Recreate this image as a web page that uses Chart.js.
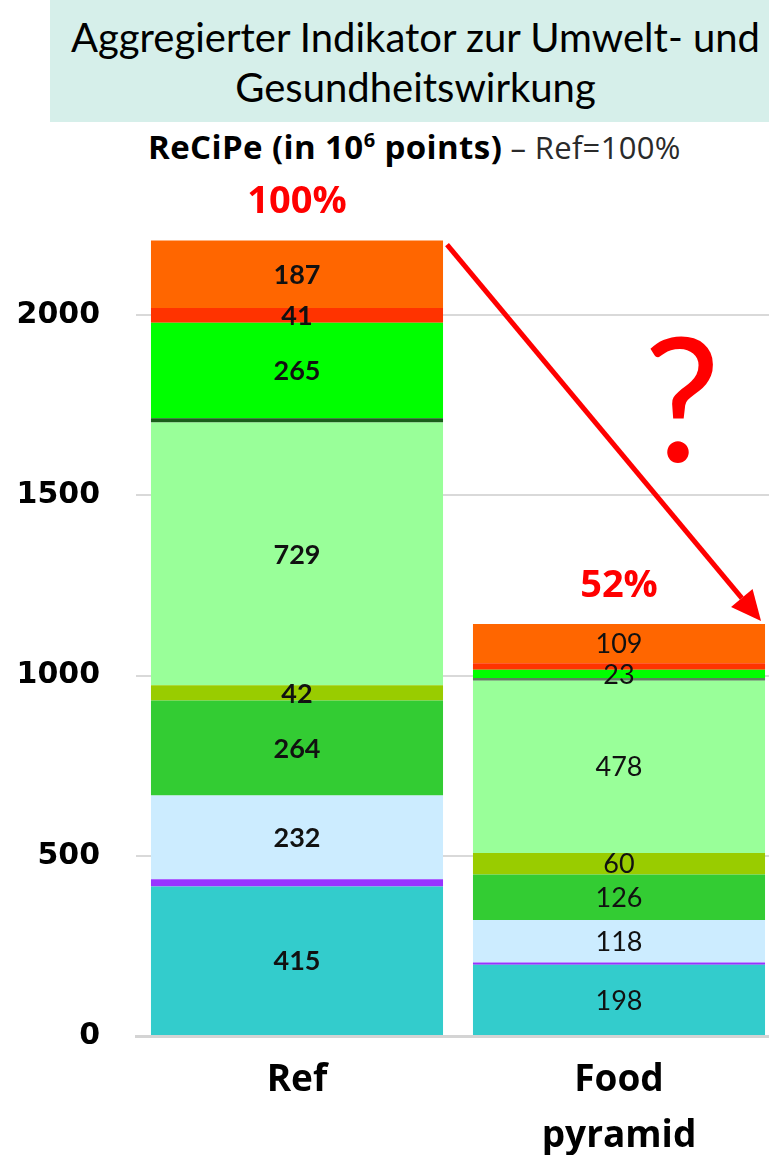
<!DOCTYPE html>
<html>
<head>
<meta charset="utf-8">
<script src="https://cdn.jsdelivr.net/npm/chart.js@4"></script>
<style>
  html, body { margin: 0; padding: 0; background: #fff; overflow: hidden; }
  #wrap { position: relative; width: 769px; height: 1155px; overflow: hidden; }
  #header { position: absolute; left: 50px; top: 0; width: 719px; height: 122px; background: #D6EFEA;
            font-family: Lato, sans-serif; font-size: 40px; line-height: 50px; text-align: center;
            color: #000; padding-top: 12px; padding-left: 12px; box-sizing: border-box; }
  #sub { position: absolute; left: 148px; top: 129px; white-space: nowrap; font-family: 'Open Sans', sans-serif;
         line-height: 36px; color: #000; }
  #sub b { font-size: 33px; letter-spacing: 0.4px; }
  #sub sup { font-size: 20px; vertical-align: 12px; line-height: 0; }
  #sub span { font-size: 31px; color: #2a2a2a; letter-spacing: 0.3px; }
  canvas { position: absolute; left: 0; top: 0; }
</style>
</head>
<body>
<div id="wrap">
  <div id="header">Aggregierter Indikator zur Umwelt- und<br>Gesundheitswirkung</div>
  <div id="sub"><b>ReCiPe (in 10<sup>6</sup> points)</b><span> – Ref=100%</span></div>
  <canvas id="c" width="780" height="1155"></canvas>
</div>
<script>
// ---- data ----
const categories = ['Ref', ['Food', 'pyramid']];
const teal        = [415, 198];
const purple      = [20, 6];
const lightBlue   = [232, 118];
const green       = [264, 126];
const yellowGreen = [42, 60];
const lightGreen  = [729, 478];
const darkGreen   = [12, 7];
const brightGreen = [265, 23];
const red         = [41, 18];
const orange      = [187, 109];
const yTicks = [0, 500, 1000, 1500, 2000];
const percentLabels = ['100%', '52%'];
const questionMark = '?';

// which value labels are printed, per series and category
const showLabel = {
  teal: [true, true], purple: [false, false], lightBlue: [true, true], green: [true, true],
  yellowGreen: [true, true], lightGreen: [true, true], darkGreen: [false, false],
  brightGreen: [true, true], red: [true, false], orange: [true, true]
};

const series = [
  ['teal', teal, '#33CCCC'],
  ['purple', purple, '#9933FF'],
  ['lightBlue', lightBlue, '#CCECFF'],
  ['green', green, '#33CC33'],
  ['yellowGreen', yellowGreen, '#99CC00'],
  ['lightGreen', lightGreen, '#99FF99'],
  ['darkGreen', darkGreen, ['#1A5E1A', '#5A845A']],
  ['brightGreen', brightGreen, '#00FF00'],
  ['red', red, '#FF3300'],
  ['orange', orange, '#FF6600']
];

const datasets = series.map(([name, vals, col]) => ({
  label: name, data: vals, backgroundColor: col, borderWidth: 0,
  barPercentage: 1, categoryPercentage: 0.907
}));

const valueLabels = {
  id: 'valueLabels',
  afterDatasetsDraw(chart) {
    const ctx = chart.ctx;
    ctx.save();
    ctx.textAlign = 'center';
    ctx.textBaseline = 'middle';
    ctx.fillStyle = '#111';
    chart.data.datasets.forEach((ds, di) => {
      const meta = chart.getDatasetMeta(di);
      meta.data.forEach((el, i) => {
        if (!showLabel[ds.label][i]) return;
        ctx.font = (i === 0 ? 'bold ' : '') + '27px Lato, sans-serif';
        ctx.fillText(String(ds.data[i]), el.x, (el.y + el.base) / 2 + 1);
      });
    });
    ctx.restore();
  }
};

const annotations = {
  id: 'annotations',
  afterDraw(chart) {
    const ctx = chart.ctx;
    const last = chart.getDatasetMeta(chart.data.datasets.length - 1).data;
    ctx.save();
    // percent labels above bars
    ctx.fillStyle = '#FF0000';
    ctx.font = 'bold 38px "Open Sans", sans-serif';
    ctx.textAlign = 'center';
    ctx.textBaseline = 'middle';
    last.forEach((el, i) => {
      ctx.fillText(percentLabels[i], el.x, el.y - 38);
    });
    // arrow
    const a = last[0], b = last[1];
    const x1 = a.x + a.width / 2 + 4, y1 = a.y + 4;
    const x2 = b.x + b.width / 2 - 4, y2 = b.y - 3;
    const ang = Math.atan2(y2 - y1, x2 - x1);
    const headLen = 30, headW = 14;
    const bx = x2 - headLen * Math.cos(ang), by = y2 - headLen * Math.sin(ang);
    ctx.strokeStyle = '#FF0000';
    ctx.lineWidth = 5;
    ctx.beginPath();
    ctx.moveTo(x1, y1);
    ctx.lineTo(bx, by);
    ctx.stroke();
    ctx.beginPath();
    ctx.moveTo(x2, y2);
    ctx.lineTo(bx + headW * Math.sin(ang), by - headW * Math.cos(ang));
    ctx.lineTo(bx - headW * Math.sin(ang), by + headW * Math.cos(ang));
    ctx.closePath();
    ctx.fill();
    // question mark
    ctx.font = '172px Lato, sans-serif';
    ctx.textBaseline = 'alphabetic';
    ctx.fillText(questionMark, b.x + 63, chart.scales.y.getPixelForValue(1600) + 3);
    ctx.restore();
  }
};

new Chart(document.getElementById('c'), {
  type: 'bar',
  data: { labels: categories, datasets },
  options: {
    responsive: false,
    animation: false,
    devicePixelRatio: 1,
    layout: { padding: { top: 135, left: 0, right: 0, bottom: 0 } },
    plugins: { legend: { display: false }, tooltip: { enabled: false } },
    scales: {
      x: {
        stacked: true,
        grid: { display: false, drawTicks: false },
        border: { display: true, color: '#D4D4D4', width: 3 },
        ticks: { color: '#000', font: { family: '"Open Sans", sans-serif', size: 37, weight: 'bold', lineHeight: 1.5 }, padding: 17 },
        afterFit(s) { s.height = 119; }
      },
      y: {
        stacked: true,
        min: 0, max: 2500,
        afterBuildTicks(s) { s.ticks = yTicks.map(v => ({ value: v })); },
        grid: { color: '#D9D9D9', lineWidth: 2, drawTicks: false },
        border: { display: false },
        ticks: { color: '#000', font: { family: 'DejaVu Sans, sans-serif', size: 30, weight: 'bold' }, padding: 36,
                 callback: v => String(v) },
        afterFit(s) { s.width = 136; }
      }
    }
  },
  plugins: [valueLabels, annotations]
});
</script>
</body>
</html>
